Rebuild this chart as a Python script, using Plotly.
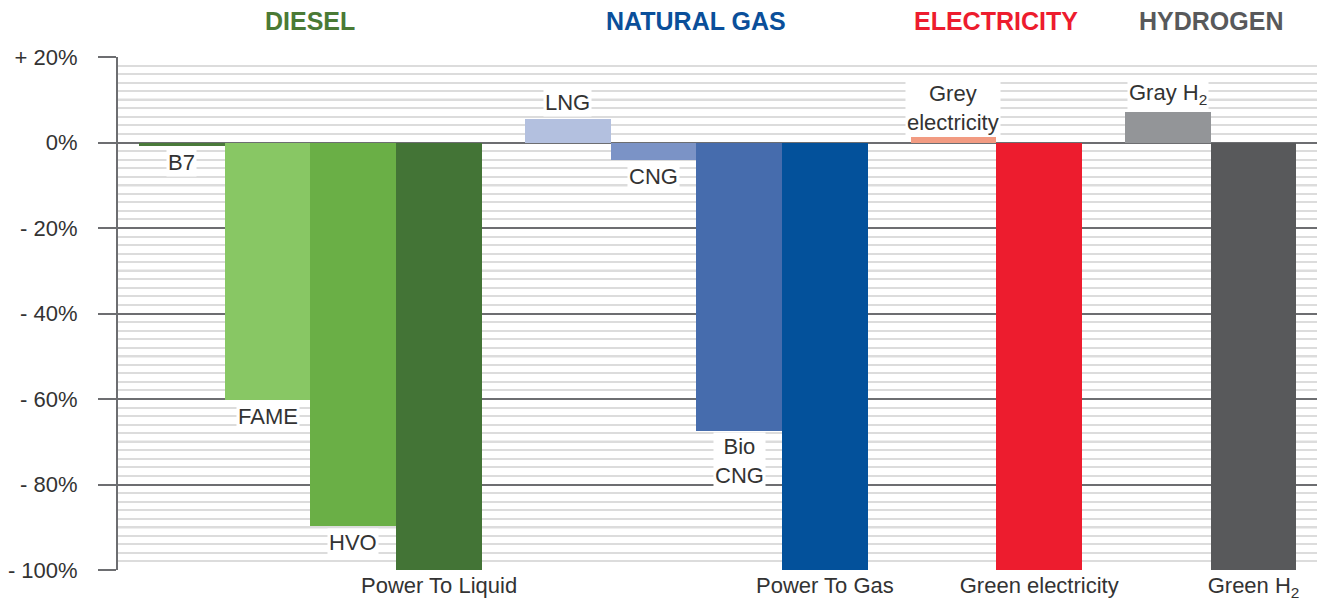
import plotly.graph_objects as go

# ---- data ----
groups = ["DIESEL", "NATURAL GAS", "ELECTRICITY", "HYDROGEN"]
group_colors = ["#4a7a35", "#0a4f9a", "#ed1c2e", "#58595b"]

diesel_labels = ["B7", "FAME", "HVO", "Power To Liquid"]
diesel_values = [-0.8, -60.3, -89.8, -100]
diesel_colors = ["#4a7a3a", "#88c764", "#6aaf46", "#437436"]

gas_labels = ["LNG", "CNG", "Bio<br>CNG", "Power To Gas"]
gas_values = [5.4, -4.2, -67.5, -100]
gas_colors = ["#b3c0df", "#7b93c6", "#466cad", "#03519b"]

elec_labels = ["Grey<br>electricity", "Green electricity"]
elec_values = [1.4, -100]
elec_colors = ["#f29b82", "#ed1c2e"]

h2_labels = ["Gray H<sub>2</sub>", "Green H<sub>2</sub>"]
h2_values = [7.2, -100]
h2_colors = ["#939598", "#58595b"]

y_tickvals = [20, 0, -20, -40, -60, -80, -100]
y_ticktext = ["+ 20%", "0%", "- 20%", "- 40%", "- 60%", "- 80%", "- 100%"]

group_data = [
    (diesel_labels, diesel_values, diesel_colors),
    (gas_labels, gas_values, gas_colors),
    (elec_labels, elec_values, elec_colors),
    (h2_labels, h2_values, h2_colors),
]

# ---- layout positions (bars adjacent, half-bar gap between groups) ----
xs, ys, cols, labs = [], [], [], []
group_centers, bottom_ticks, bottom_text = [], [], []
pos = 0.0
for labels, values, colors in group_data:
    start = pos
    for i, (l, v, c) in enumerate(zip(labels, values, colors)):
        xs.append(pos)
        ys.append(v)
        cols.append(c)
        if i == len(labels) - 1:
            bottom_ticks.append(pos)
            bottom_text.append(l)
            labs.append(None)
        else:
            labs.append(l)
        pos += 1
    group_centers.append((start + pos - 1) / 2)
    pos += 0.5

TXT = "#333333"
FONT = "Liberation Sans, Arial, Helvetica, sans-serif"

fig = go.Figure()
fig.add_trace(go.Bar(x=xs, y=ys, width=1, marker=dict(color=cols, line=dict(width=0)),
                     hoverinfo="skip", showlegend=False))

annotations = []
for x, y, l in zip(xs, ys, labs):
    if l is None:
        continue
    neg = y < 0
    two = "<br>" in l
    annotations.append(dict(x=x, y=y, xref="x", yref="y", text=l, showarrow=False,
                            yanchor="top" if neg else "bottom",
                            yshift=(-2 if not two else -1) if neg else (2 if not two else 0),
                            bgcolor="white", borderpad=1,
                            font=dict(family=FONT, size=22, color=TXT)))

for g, gc, cx in zip(groups, group_colors, group_centers):
    annotations.append(dict(x=cx, y=1, xref="x", yref="paper", text="<b>%s</b>" % g,
                            showarrow=False, yanchor="middle", yshift=36,
                            font=dict(family=FONT, size=25, color=gc)))

# mid-level (10%) grid lines, drawn under the bars
shapes = []
for v in range(-90, 20, 20):
    shapes.append(dict(type="line", xref="paper", yref="y", x0=0, x1=1, y0=v, y1=v,
                       line=dict(color="#bdbdbd", width=2), layer="below"))

fig.update_layout(
    width=1317, height=604,
    margin=dict(l=118, r=0, t=57, b=34),
    paper_bgcolor="white", plot_bgcolor="white",
    bargap=0,
    annotations=annotations,
    shapes=shapes,
    font=dict(family=FONT, size=22, color=TXT),
    xaxis=dict(range=[-0.745, 13.24], tickvals=bottom_ticks, ticktext=bottom_text,
               showgrid=False, zeroline=False, showline=False, ticks="",
               tickfont=dict(family=FONT, size=22, color=TXT), automargin=False),
    yaxis=dict(range=[-100, 20], tickvals=y_tickvals, ticktext=y_ticktext,
               showgrid=True, gridcolor="#6d6e71", gridwidth=1.5,
               minor=dict(dtick=2, showgrid=True, gridcolor="#dcdcdc", gridwidth=1.5),
               zeroline=False, showline=True, linecolor="#6d6e71", linewidth=2,
               ticks="outside", ticklen=18, tickwidth=1.5, tickcolor="#6d6e71",
               ticklabelstandoff=16,
               tickfont=dict(family=FONT, size=22, color=TXT), automargin=False),
)

fig.write_html("out.html", config={"displayModeBar": False},
               post_script="document.body.style.margin='0';")
